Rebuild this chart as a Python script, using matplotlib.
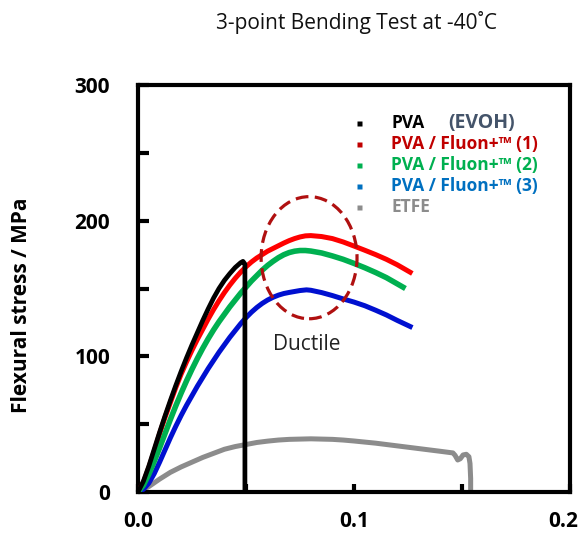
import matplotlib
matplotlib.use("Agg")
import matplotlib.pyplot as plt
import matplotlib.transforms as mtransforms
from matplotlib.patches import Ellipse

plt.rcParams['font.family'] = ['Open Sans', 'DejaVu Sans']

# ---- data (strain, flexural stress MPa) ----
pva_x = [0.0, 0.0025, 0.005, 0.0075, 0.01, 0.0125, 0.015, 0.0175, 0.02, 0.0225, 0.025, 0.0275,
         0.03, 0.0325, 0.035, 0.0375, 0.04, 0.0425, 0.045, 0.0475, 0.0486, 0.0495, 0.0495]
pva_y = [0, 8, 19, 31.5, 44, 56, 67.5, 78.5, 89, 99, 108.5, 117.5,
         126.5, 135, 143, 150, 156, 161, 165.5, 169, 170, 168, 0]

f1_x = [0.0, 0.0025, 0.005, 0.0075, 0.01, 0.0125, 0.015, 0.0175, 0.02, 0.0225, 0.025, 0.0275,
        0.03, 0.0325, 0.035, 0.0375, 0.04, 0.0425, 0.045, 0.0475, 0.05, 0.0525, 0.055, 0.0575,
        0.06, 0.0625, 0.065, 0.0675, 0.07, 0.0725, 0.075, 0.0775, 0.08, 0.085, 0.09, 0.095,
        0.1, 0.105, 0.11, 0.115, 0.12, 0.126]
f1_y = [0, 7, 18, 30, 43, 55, 66, 77, 87, 96, 104.5, 112.5,
        120, 127.5, 134.5, 141, 147, 152.5, 157.5, 162, 166, 169.5, 172.5, 175,
        177.5, 179.5, 181.5, 183.5, 185.3, 186.8, 188, 188.8, 189, 188.3, 186.8, 184.3,
        181.3, 178.2, 175, 171.5, 167.5, 162]

f2_x = [0.0, 0.0025, 0.005, 0.0075, 0.01, 0.0125, 0.015, 0.0175, 0.02, 0.0225, 0.025, 0.0275,
        0.03, 0.0325, 0.035, 0.0375, 0.04, 0.0425, 0.045, 0.0475, 0.05, 0.0525, 0.055, 0.0575,
        0.06, 0.0625, 0.065, 0.0675, 0.07, 0.0725, 0.075, 0.0775, 0.08, 0.085, 0.09, 0.095,
        0.1, 0.105, 0.11, 0.115, 0.1227]
f2_y = [0, 5, 13, 22.5, 32.5, 43, 53.5, 63.5, 73, 82, 90.5, 98.5,
        106, 113, 119.5, 125.5, 131, 136.5, 141.5, 146.5, 151, 155.5, 159.5, 163.5,
        167, 170, 172.7, 174.9, 176.5, 177.5, 178, 178, 177.6, 176.2, 174, 171.5,
        168.5, 165.3, 161.8, 158, 151]

f3_x = [0.0, 0.0025, 0.005, 0.0075, 0.01, 0.0125, 0.015, 0.0175, 0.02, 0.0225, 0.025, 0.0275,
        0.03, 0.0325, 0.035, 0.0375, 0.04, 0.0425, 0.045, 0.0475, 0.05, 0.0525, 0.055, 0.0575,
        0.06, 0.0625, 0.065, 0.0675, 0.07, 0.0725, 0.075, 0.078, 0.08, 0.085, 0.09, 0.095,
        0.1, 0.105, 0.11, 0.115, 0.12, 0.126]
f3_y = [0, 2, 6.5, 13.5, 22, 31, 40, 48.5, 56.5, 64, 71, 78,
        84.5, 91, 97, 103, 108.5, 114, 119, 124, 128.5, 132.5, 136, 139,
        141.5, 143.5, 145.1, 146.3, 147.1, 147.8, 148.5, 149, 148.7, 147, 144.8, 142.3,
        140, 137.3, 134, 130.5, 126.5, 122]

etfe_x = [0.0, 0.005, 0.01, 0.015, 0.02, 0.025, 0.03, 0.035, 0.04, 0.045, 0.05, 0.055,
          0.06, 0.065, 0.07, 0.075, 0.08, 0.085, 0.09, 0.095, 0.1, 0.105, 0.11, 0.115,
          0.12, 0.125, 0.13, 0.135, 0.14, 0.1458, 0.1468, 0.148, 0.1492, 0.1505, 0.152,
          0.1532, 0.1537, 0.154, 0.154]
etfe_y = [0, 4, 9.5, 14.5, 18.5, 22, 25.5, 28.5, 31.5, 33.5, 35, 36.5,
          37.5, 38.3, 38.8, 39, 39.2, 39, 38.8, 38.3, 37.6, 36.8, 36, 35,
          34, 33, 32, 31, 30, 28.8, 27, 23.6, 24.5, 27.3, 27.8,
          26, 21, 10, 0]

series_labels = ['PVA', 'PVA / Fluon+\u2122 (1)', 'PVA / Fluon+\u2122 (2)', 'PVA / Fluon+\u2122 (3)', 'ETFE']
line_colors = ['#000000', '#ff0000', '#00b050', '#0010d0', '#8c8c8c']
text_colors = ['#000000', '#c00000', '#00b050', '#0070c0', '#8c8c8c']

xticks = [0.0, 0.05, 0.1, 0.15, 0.2]
xticklabels = ['0.0', '', '0.1', '', '0.2']
yticks = [0, 50, 100, 150, 200, 250, 300]
yticklabels = ['0', '', '100', '', '200', '', '300']

fig = plt.figure(figsize=(5.82, 5.38), dpi=100)
ax = fig.add_axes([0.2371, 0.0855, 0.7423, 0.7565])

ax.plot(etfe_x, etfe_y, color=line_colors[4], lw=3.6, zorder=2)
ax.plot(f3_x, f3_y, color=line_colors[3], lw=3.6, zorder=3)
ax.plot(f1_x, f1_y, color=line_colors[1], lw=3.6, zorder=3)
ax.plot(f2_x, f2_y, color=line_colors[2], lw=4.0, zorder=4)
ax.plot(pva_x, pva_y, color=line_colors[0], lw=3.4, zorder=5)

ell = Ellipse((0.0792, 172.7), 0.0444, 90, fill=False, edgecolor='#b01010',
              lw=2.3, linestyle=(0, (4, 2)), zorder=6)
ax.add_patch(ell)
ax.text(0.0782, 108.5, 'Ductile', ha='center', va='center', fontsize=15, color='#222222')

ax.set_xlim(0, 0.2)
ax.set_ylim(0, 300)
ax.set_xticks(xticks)
ax.set_xticklabels(xticklabels, fontsize=15, fontweight='bold')
ax.set_yticks(yticks)
ax.set_yticklabels(yticklabels, fontsize=15, fontweight='bold')
ax.tick_params(axis='y', direction='in', length=8, width=3, pad=20)
ax.tick_params(axis='x', direction='in', length=6, width=3, pad=14)
for s in ax.spines.values():
    s.set_linewidth(3)
last = ax.get_xticklabels()[-1]
last.set_transform(last.get_transform() + mtransforms.ScaledTranslation(-7 / 100, 0, fig.dpi_scale_trans))

# legend
lx_m, lx_t, ly0, dy = 0.512, 0.586, 0.9066, 0.0516
for i, (lab, lc, tc) in enumerate(zip(series_labels, line_colors, text_colors)):
    y = ly0 - i * dy
    ax.plot([lx_m], [y], marker='s', ms=3.6, color=tc if i else lc, mec='none',
            transform=ax.transAxes, clip_on=False, zorder=7)
    ax.text(lx_t, y, lab, transform=ax.transAxes, ha='left', va='center',
            fontsize=12.5, fontweight='bold', color=tc)
ax.text(0.718, ly0, '(EVOH)', transform=ax.transAxes, ha='left', va='center',
        fontsize=14, fontweight='bold', color='#44546a')

fig.text(357 / 582, 1 - 22 / 538, '3-point Bending Test at -40\u02daC', ha='center', va='center',
         fontsize=15, color='#111111')
fig.text(22 / 582, 1 - 305 / 538, 'Flexural stress / MPa', rotation=90, ha='center', va='center',
         fontsize=15, fontweight='bold')

fig.savefig('out.png', dpi=100)
